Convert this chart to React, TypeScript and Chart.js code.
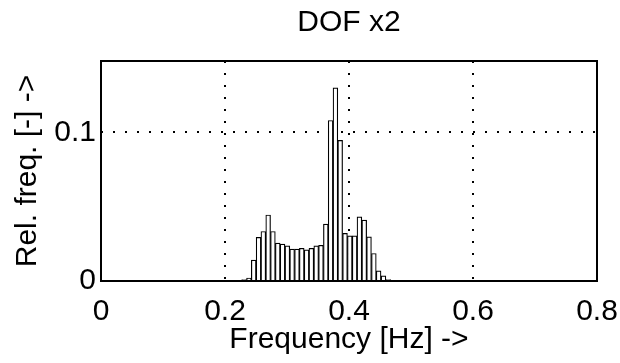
import { useEffect, useRef } from "react";
import { Chart, registerables } from "chart.js";
Chart.register(...registerables);

const binCenters = [
  0.2231, 0.2308, 0.2386, 0.2463, 0.2541, 0.2618, 0.2696, 0.2773, 0.2851, 0.2928,
  0.3006, 0.3083, 0.3161, 0.3238, 0.3316, 0.3393, 0.3471, 0.3548, 0.3626, 0.3703,
  0.3781, 0.3858, 0.3936, 0.4013, 0.4091, 0.4168, 0.4246, 0.4323, 0.4401, 0.4478,
  0.4556, 0.4633, 0.4711, 0.4788, 0.4866,
];
const relFreq = [
  0.0005, 0.001, 0.002, 0.014, 0.0293, 0.0333, 0.0444, 0.0333, 0.0255, 0.0248,
  0.0236, 0.0214, 0.0214, 0.022, 0.021, 0.022, 0.0236, 0.024, 0.0383, 0.108,
  0.13, 0.0946, 0.032, 0.0304, 0.0304, 0.0432, 0.041, 0.0297, 0.0185, 0.0068,
  0.0034, 0.001, 0.0006, 0.0005, 0.0004,
];
const xTicks = [0, 0.2, 0.4, 0.6, 0.8];
const xTickLabels = ["0", "0.2", "0.4", "0.6", "0.8"];
const yTicks = [0, 0.1];
const yTickLabels = ["0", "0.1"];
const chartTitle = "DOF x2";
const xTitle = "Frequency [Hz] ->";
const yTitle = "Rel. freq. [-] ->";

const FONT = "'Liberation Sans', Arial, Helvetica, sans-serif";

export default function App() {
  const ref = useRef<HTMLCanvasElement>(null);
  useEffect(() => {
    document.body.style.margin = "0";
    const frame = {
      id: "frame",
      afterDraw(chart: any) {
        const { ctx, chartArea: a } = chart;
        ctx.save();
        ctx.strokeStyle = "#000";
        ctx.lineWidth = 2;
        ctx.strokeRect(a.left, a.top, a.right - a.left, a.bottom - a.top);
        ctx.restore();
      },
    };
    const font = { family: FONT, size: 30, weight: "normal" as const };
    const chart = new Chart(ref.current as HTMLCanvasElement, {
      type: "bar",
      data: {
        datasets: [
          {
            data: binCenters.map((x, i) => ({ x, y: relFreq[i] })),
            backgroundColor: "#fff",
            borderColor: "#000",
            borderWidth: 1.2,
            barPercentage: 1,
            categoryPercentage: 1,
          },
        ],
      },
      options: {
        animation: false,
        responsive: false,
        layout: { padding: { left: 0, right: 23, top: 0, bottom: 0 } },
        plugins: {
          legend: { display: false },
          tooltip: { enabled: false },
          title: {
            display: true,
            fullSize: false,
            text: chartTitle,
            color: "#000",
            font,
            padding: { top: 5, bottom: 20 },
          },
        },
        scales: {
          x: {
            type: "linear",
            min: 0,
            max: 0.8,
            offset: false,
            z: 1,
            afterBuildTicks: (s: any) => {
              s.ticks = xTicks.map((v) => ({ value: v }));
            },
            afterFit: (s: any) => {
              s.height = 82;
              s.paddingLeft = 0;
              s.paddingRight = 0;
            },
            ticks: {
              autoSkip: false,
              maxRotation: 0,
              padding: 13,
              color: "#000",
              font,
              callback: (v: any) => {
                const i = xTicks.findIndex((t) => Math.abs(t - v) < 1e-9);
                return i >= 0 ? xTickLabels[i] : "";
              },
            },
            grid: {
              offset: false,
              drawTicks: false,
              lineWidth: 2,
              color: (c: any) =>
                c.tick && (c.tick.value === 0 || c.tick.value === 0.8) ? "rgba(0,0,0,0)" : "#000",
            },
            border: { display: false, dash: [2, 10] },
            title: { display: true, text: xTitle, color: "#000", font, padding: { top: 0, bottom: 5 } },
          },
          y: {
            type: "linear",
            min: 0,
            max: 0.148,
            z: 1,
            afterBuildTicks: (s: any) => {
              s.ticks = yTicks.map((v) => ({ value: v }));
            },
            afterFit: (s: any) => {
              s.width = 101;
              s.paddingTop = 0;
              s.paddingBottom = 0;
            },
            ticks: {
              padding: 5,
              color: "#000",
              font,
              callback: (v: any) => {
                const i = yTicks.findIndex((t) => Math.abs(t - v) < 1e-9);
                return i >= 0 ? yTickLabels[i] : "";
              },
            },
            grid: {
              drawTicks: false,
              lineWidth: 2,
              color: (c: any) => (c.tick && c.tick.value === 0 ? "rgba(0,0,0,0)" : "#000"),
            },
            border: { display: false, dash: [2, 10] },
            title: { display: true, text: yTitle, color: "#000", font, padding: { top: 10, bottom: 0 } },
          },
        },
      },
      plugins: [frame],
    } as any);
    return () => chart.destroy();
  }, []);
  return (
    <div style={{ width: 620, height: 363, position: "relative", background: "#fff" }}>
      <canvas ref={ref} width={620} height={363} style={{ display: "block" }} />
    </div>
  );
}
